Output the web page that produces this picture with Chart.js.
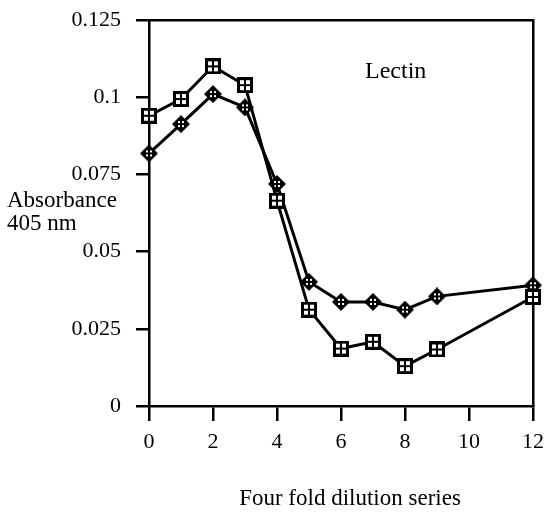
<!DOCTYPE html>
<html>
<head>
<meta charset="utf-8">
<script src="https://cdn.jsdelivr.net/npm/chart.js@4"></script>
<style>
  body { margin: 0; background: #fff; }
  canvas { display: block; }
</style>
</head>
<body>
<canvas id="myChart" width="545" height="513"></canvas>
<script>
const dilution = [0, 1, 2, 3, 4, 5, 6, 7, 8, 9, 12];
const squareSeries = [0.094, 0.0994, 0.110, 0.1039, 0.0665, 0.0312, 0.0186, 0.0208, 0.0129, 0.0183, 0.0353];
const diamondSeries = [0.0818, 0.0913, 0.101, 0.0967, 0.0719, 0.0402, 0.0337, 0.0337, 0.0312, 0.0355, 0.0391];
const xTicks = [0, 2, 4, 6, 8, 10, 12];
const yTicks = [0, 0.025, 0.05, 0.075, 0.1, 0.125];

const SERIF = "'Liberation Serif', 'Times New Roman', serif";

// marker: black square with four white windows
function makeSquareMarker() {
    const c = document.createElement('canvas');
    c.width = 16; c.height = 16;
    const g = c.getContext('2d');
    g.fillStyle = '#000';
    g.fillRect(0, 0, 16, 16);
    g.fillStyle = '#fff';
    g.fillRect(3, 3, 4, 4);
    g.fillRect(9, 3, 4, 4);
    g.fillRect(3, 9, 4, 4);
    g.fillRect(9, 9, 4, 4);
    return c;
}

// marker: black diamond with small white dots round a cross
function makeDiamondMarker() {
    const c = document.createElement('canvas');
    c.width = 18; c.height = 18;
    const g = c.getContext('2d');
    g.fillStyle = '#000';
    g.beginPath();
    g.moveTo(9, 0);
    g.lineTo(18, 9);
    g.lineTo(9, 18);
    g.lineTo(0, 9);
    g.closePath();
    g.fill();
    g.fillStyle = '#fff';
    g.fillRect(6, 6, 2, 2);
    g.fillRect(10, 6, 2, 2);
    g.fillRect(6, 10, 2, 2);
    g.fillRect(10, 10, 2, 2);
    return c;
}

const toPoints = ys => dilution.map((x, i) => ({x: x, y: ys[i]}));

const extraText = {
    id: 'extraText',
    afterDraw(chart) {
        const ctx = chart.ctx;
        const area = chart.chartArea;
        ctx.save();
        ctx.fillStyle = '#000';
        ctx.textBaseline = 'alphabetic';
        ctx.textAlign = 'left';
        ctx.font = '24px ' + SERIF;
        ctx.fillText('Lectin', area.left + 216, area.top + 58);
        ctx.font = '23px ' + SERIF;
        ctx.fillText('Absorbance', 7, 207);
        ctx.fillText('405 nm', 7, 230);
        ctx.textAlign = 'center';
        ctx.fillText('Four fold dilution series', (area.left + area.right) / 2 + 9, 505);
        ctx.restore();
    }
};

// pin the box size and drop the label overflow padding
const fixSize = (prop, v) => scale => {
    scale[prop] = v;
    scale.paddingTop = 0;
    scale.paddingBottom = 0;
    scale.paddingLeft = 0;
    scale.paddingRight = 0;
};

const axisCommon = {
    type: 'linear',
    border: {display: true, color: '#000', width: 2.5},
};

const config = {
    type: 'scatter',
    data: {
        datasets: [
            {
                label: 'squares',
                data: toPoints(squareSeries),
                showLine: true,
                borderColor: '#000',
                borderWidth: 3,
                pointStyle: makeSquareMarker(),
                clip: false,
            },
            {
                label: 'diamonds',
                data: toPoints(diamondSeries),
                showLine: true,
                borderColor: '#000',
                borderWidth: 3,
                pointStyle: makeDiamondMarker(),
                clip: false,
            }
        ]
    },
    options: {
        responsive: false,
        animation: false,
        events: [],
        layout: {padding: 0},
        plugins: {
            legend: {display: false},
            tooltip: {enabled: false},
        },
        scales: {
            x: {
                ...axisCommon,
                position: 'bottom',
                min: 0,
                max: 12,
                afterBuildTicks: scale => { scale.ticks = xTicks.map(v => ({value: v})); },
                afterFit: fixSize('height', 107),
                grid: {drawOnChartArea: false, drawTicks: true, tickLength: 15, color: '#000', lineWidth: 2.5},
                ticks: {color: '#000', font: {family: SERIF, size: 22}, padding: 8, maxRotation: 0,
                        callback: v => String(v)},
            },
            y: {
                ...axisCommon,
                position: 'left',
                min: 0,
                max: 0.125,
                afterBuildTicks: scale => { scale.ticks = yTicks.map(v => ({value: v})); },
                afterFit: fixSize('width', 149),
                grid: {drawOnChartArea: false, drawTicks: true, tickLength: 13, color: '#000', lineWidth: 2.5},
                ticks: {color: '#000', font: {family: SERIF, size: 22}, padding: 15,
                        callback: v => String(Number(v.toFixed(3)))},
            },
            x2: {
                ...axisCommon,
                position: 'top',
                min: 0,
                max: 12,
                afterFit: fixSize('height', 20),
                grid: {drawOnChartArea: false, drawTicks: false},
                ticks: {display: false},
            },
            y2: {
                ...axisCommon,
                position: 'right',
                min: 0,
                max: 0.125,
                afterFit: fixSize('width', 12),
                grid: {drawOnChartArea: false, drawTicks: false},
                ticks: {display: false},
            },
        }
    },
    plugins: [extraText],
};

const myChart = new Chart(document.getElementById('myChart').getContext('2d'), config);
</script>
</body>
</html>
